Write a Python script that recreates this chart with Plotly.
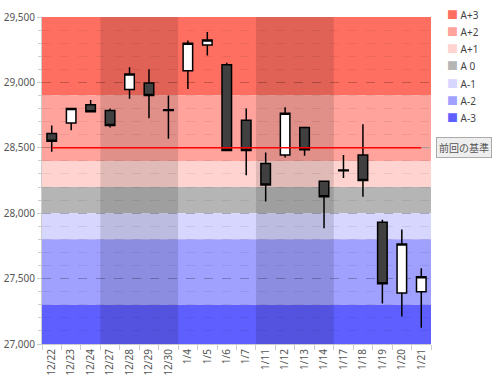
import plotly.graph_objects as go

# ---- data ----
dates = ["12/22", "12/23", "12/24", "12/27", "12/28", "12/29", "12/30",
         "1/4", "1/5", "1/6", "1/7", "1/11", "1/12", "1/13", "1/14",
         "1/17", "1/18", "1/19", "1/20", "1/21"]
open_ = [28610, 28690, 28830, 28785, 28945, 28995, 28790,
         29090, 29285, 29135, 28710, 28380, 28445, 28655, 28245,
         28330, 28445, 27930, 27390, 27400]
high = [28670, 28800, 28865, 28800, 29115, 29100, 28900,
        29320, 29385, 29150, 28800, 28465, 28810, 28660, 28250,
        28445, 28680, 27950, 27875, 27580]
low = [28470, 28635, 28770, 28655, 28875, 28725, 28570,
       28950, 29205, 28475, 28290, 28090, 28425, 28440, 27885,
       28270, 28125, 27310, 27210, 27125]
close = [28550, 28800, 28775, 28670, 29065, 28900, 28785,
         29300, 29325, 28480, 28480, 28215, 28765, 28485, 28125,
         28325, 28250, 27460, 27765, 27515]

baseline = 28500
baseline_label = "前回の基準"

band_names = ["A+3", "A+2", "A+1", "A 0", "A-1", "A-2", "A-3"]
band_lower = [28900, 28400, 28200, 28000, 27800, 27300, 27000]
band_upper = [29500, 28900, 28400, 28200, 28000, 27800, 27300]
band_colors = ["#FF6F61", "#FFA39C", "#FFD4D0", "#B5B5B5", "#D6D6FF", "#A0A0FF", "#5F5FFF"]

highlight_ranges = [("12/27", "12/30"), ("1/11", "1/14")]

y_ticks = [27000, 27500, 28000, 28500, 29000, 29500]

# ---- figure ----
fig = go.Figure()

fig.add_trace(go.Scatter(x=dates, y=[baseline] * len(dates), mode="lines",
                         line=dict(color="#FF0000", width=1.4),
                         showlegend=False, hoverinfo="skip"))

fig.add_trace(go.Candlestick(
    x=dates, open=open_, high=high, low=low, close=close,
    increasing=dict(fillcolor="#FFFFFF", line=dict(color="#000000", width=1.5)),
    decreasing=dict(fillcolor="#404040", line=dict(color="#000000", width=1.5)),
    showlegend=False, whiskerwidth=0))

shapes = []
for lo, hi, col in zip(band_lower, band_upper, band_colors):
    shapes.append(dict(type="rect", xref="paper", yref="y", x0=0, x1=1, y0=lo, y1=hi,
                       fillcolor=col, line=dict(width=0), layer="below"))
for a, b in highlight_ranges:
    ia, ib = dates.index(a), dates.index(b)
    shapes.append(dict(type="rect", xref="x", yref="paper", x0=ia - 0.5, x1=ib + 0.5,
                       y0=0, y1=1, fillcolor="rgba(0,0,0,0.12)", line=dict(width=0),
                       layer="below"))
# connector from baseline end to label
shapes.append(dict(type="line", xref="paper", yref="y", x0=0.975, x1=1.012,
                   y0=baseline, y1=baseline,
                   line=dict(color="#AAAAAA", width=1, dash="dash")))

annotations = [dict(xref="paper", yref="y", x=1.012, y=baseline, xanchor="left",
                    yanchor="middle", text=baseline_label, showarrow=False,
                    bgcolor="#EEEEEE", bordercolor="#AAAAAA", borderwidth=1, borderpad=2,
                    font=dict(family="Noto Sans CJK JP", size=10, color="#555555"))]

# legend (colour keys for the bands)
for i, (name, col) in enumerate(zip(band_names, band_colors)):
    annotations.append(dict(
        xref="paper", yref="paper", x=1.036, y=1.009 - i * 0.0529,
        xanchor="left", yanchor="middle", showarrow=False,
        text=f'<span style="color:{col};font-size:11px">■</span> {name}',
        font=dict(size=10, color="#444444")))

fig.update_layout(
    width=498, height=380,
    margin=dict(l=42, r=67, t=17, b=36, autoexpand=False),
    paper_bgcolor="white", plot_bgcolor="white",
    font=dict(family="Noto Sans, Noto Sans CJK JP, sans-serif", size=10, color="#555555"),
    shapes=shapes,
    annotations=annotations,
    showlegend=False,
    xaxis=dict(type="category", categoryorder="array", categoryarray=dates,
               rangeslider=dict(visible=False), tickangle=-90, tickson="boundaries",
               ticks="outside", ticklen=5, tickcolor="#CCCCCC", showgrid=False,
               showline=True, linecolor="#CCCCCC", range=[-0.5, len(dates) - 0.5],
               tickfont=dict(size=10, color="#555555")),
    yaxis=dict(range=[27000, 29500], tickvals=y_ticks, tickformat=",d",
               showgrid=True, gridcolor="rgba(0,0,0,0.18)", griddash="dash",
               gridwidth=1, zeroline=False, showline=True, linecolor="#CCCCCC",
               ticks="outside", ticklen=4, tickcolor="#CCCCCC",
               minor=dict(dtick=100, showgrid=True, gridcolor="rgba(0,0,0,0.07)",
                          ticks="outside", ticklen=3, tickcolor="#CCCCCC"),
               tickfont=dict(size=10, color="#555555")),
)

fig.write_html("out.html", config={"displayModeBar": False},
               post_script="document.body.style.margin='0';document.body.style.overflow='hidden';")
